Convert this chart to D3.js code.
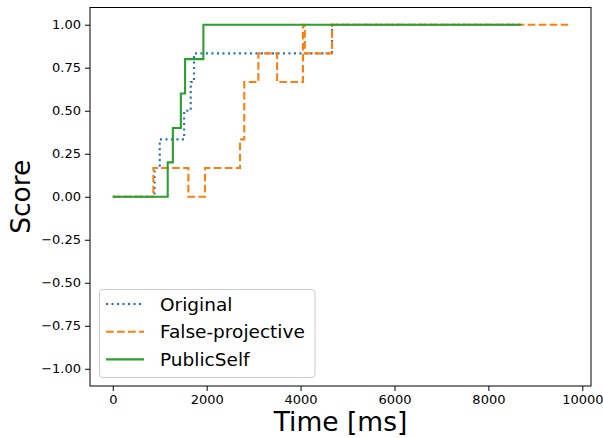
<!DOCTYPE html>
<html><head><meta charset="utf-8">
<script src="https://cdn.jsdelivr.net/npm/d3@7"></script>
<style>body{margin:0;background:#fff}svg{display:block;font-family:"DejaVu Sans",sans-serif}</style>
</head><body><svg id="c" width="603" height="438"></svg>
<script>
const seriesNames = ["Original", "False-projective", "PublicSelf"];
const originalTimes = [0, 890, 1000, 1520, 1660, 1730, 4670, 8700];
const originalScores = [0, 0.1667, 0.3333, 0.5, 0.6667, 0.8333, 1, 1];
const falseTimes = [0, 865, 1610, 1964, 2710, 2800, 3100, 3500, 4050, 4090, 4670, 9700];
const falseScores = [0, 0.1667, 0, 0.1667, 0.3333, 0.6667, 0.8333, 0.6667, 1, 0.8333, 1, 1];
const publicTimes = [0, 1170, 1280, 1450, 1540, 1930, 8700];
const publicScores = [0, 0.2, 0.4, 0.6, 0.8, 1, 1];
const xTicks = [0, 2000, 4000, 6000, 8000, 10000];
const yTicks = [-1, -0.75, -0.5, -0.25, 0, 0.25, 0.5, 0.75, 1];

const svg = d3.select("#c");
const L = 90, R = 591, T = 7.5, B = 386;
const x = d3.scaleLinear().domain([-485, 10185]).range([L, R]);
const y = d3.scaleLinear().domain([-1.1, 1.1]).range([B, T]);

const series = [
  {name: seriesNames[0], t: originalTimes, v: originalScores, color: "#1f77b4", dash: "2.1,3.4"},
  {name: seriesNames[1], t: falseTimes, v: falseScores, color: "#ff7f0e", dash: "7.7,3.3"},
  {name: seriesNames[2], t: publicTimes, v: publicScores, color: "#2ca02c", dash: null}
];

const line = d3.line().x(d => x(d[0])).y(d => y(d[1])).curve(d3.curveStepAfter);
const g = svg.append("g");
g.append("defs").append("clipPath").attr("id","clip").append("rect")
  .attr("x", L).attr("y", T).attr("width", R-L).attr("height", B-T);
series.forEach(s => {
  g.append("path")
    .attr("clip-path","url(#clip)")
    .attr("d", line(s.t.map((t,i)=>[t, s.v[i]])))
    .attr("fill","none").attr("stroke", s.color).attr("stroke-width", 2.1)
    .attr("stroke-dasharray", s.dash);
});

// axes
const xa = svg.append("g").attr("transform", `translate(0,${B})`)
  .call(d3.axisBottom(x).tickValues(xTicks).tickFormat(d3.format("d")).tickSize(5).tickPadding(4));
const ya = svg.append("g").attr("transform", `translate(${L},0)`)
  .call(d3.axisLeft(y).tickValues(yTicks).tickFormat(d3.format(".2f")).tickSize(5).tickPadding(4));
[xa, ya].forEach(a => {
  a.select(".domain").remove();
  a.selectAll("text").attr("font-size", 13).attr("fill", "#000").attr("font-family", "DejaVu Sans");
  a.selectAll("line").attr("stroke", "#000").attr("stroke-width", 1);
});
svg.append("rect").attr("x", L).attr("y", T).attr("width", R-L).attr("height", B-T)
  .attr("fill","none").attr("stroke","#000").attr("stroke-width",1);

svg.append("text").attr("x", (L+R)/2).attr("y", 431).attr("text-anchor","middle")
  .attr("font-size", 26.5).text("Time [ms]");
svg.append("text").attr("transform", `translate(30,${(T+B)/2}) rotate(-90)`).attr("text-anchor","middle")
  .attr("font-size", 26.5).text("Score");

// legend
const lg = svg.append("g");
lg.append("rect").attr("x", 99.5).attr("y", 289.5).attr("width", 215.5).attr("height", 88)
  .attr("rx", 3).attr("fill", "#fff").attr("fill-opacity", 0.8).attr("stroke", "#cccccc").attr("stroke-width", 1);
series.forEach((s, i) => {
  const yy = 304 + i * 27.7;
  lg.append("line").attr("x1", 106).attr("x2", 144).attr("y1", yy).attr("y2", yy)
    .attr("stroke", s.color).attr("stroke-width", 2.1).attr("stroke-dasharray", s.dash);
  lg.append("text").attr("x", 160).attr("y", yy).attr("dy", "0.36em")
    .attr("font-size", 18.5).text(s.name);
});
</script></body></html>
